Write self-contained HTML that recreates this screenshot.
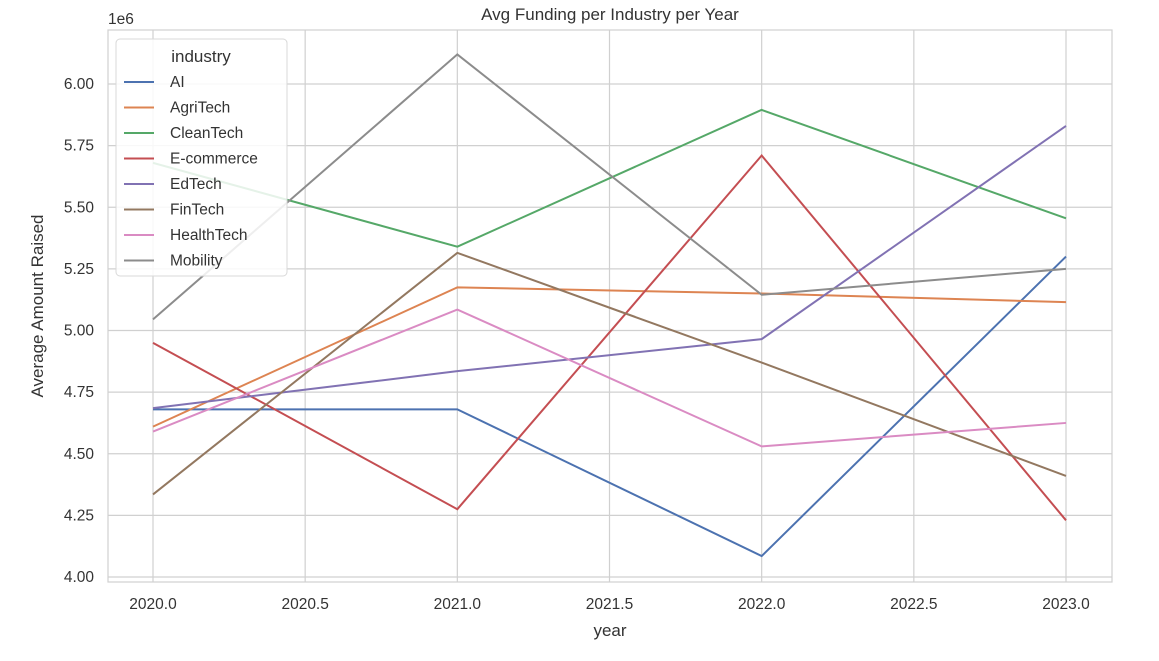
<!DOCTYPE html>
<html><head><meta charset="utf-8"><style>
body{margin:0;background:#fff;font-family:"Liberation Sans","DejaVu Sans",sans-serif}
</style></head><body>
<svg id="chart" width="1159" height="656" xmlns="http://www.w3.org/2000/svg" font-family="Liberation Sans, DejaVu Sans, sans-serif"></svg>
<script>
const years=[2020,2021,2022,2023];
const seriesNames=["AI","AgriTech","CleanTech","E-commerce","EdTech","FinTech","HealthTech","Mobility"];
const colors=["#4c72b0","#dd8452","#55a868","#c44e52","#8172b3","#937860","#da8bc3","#8c8c8c"];
const aiVals=[4.68,4.68,4.085,5.30];
const agriVals=[4.61,5.175,5.15,5.115];
const cleanVals=[5.68,5.34,5.895,5.455];
const ecomVals=[4.95,4.275,5.71,4.23];
const edVals=[4.685,4.835,4.965,5.83];
const finVals=[4.335,5.315,4.87,4.41];
const healthVals=[4.59,5.085,4.53,4.625];
const mobVals=[5.045,6.12,5.145,5.25];
const allVals=[aiVals,agriVals,cleanVals,ecomVals,edVals,finVals,healthVals,mobVals];
const xTicks=[2020.0,2020.5,2021.0,2021.5,2022.0,2022.5,2023.0];
const yTicks=[4.00,4.25,4.50,4.75,5.00,5.25,5.50,5.75,6.00];

const svg=document.getElementById('chart');
const NS='http://www.w3.org/2000/svg';
const L=108,R=1112,T=30,B=582;
function xs(v){return 153+(v-2020)*(1066-153)/3;}
function ys(v){return 577-(v-4)*(577-84)/2;}
function mk(tag,attrs,parent){const e=document.createElementNS(NS,tag);for(const k in attrs)e.setAttribute(k,attrs[k]);(parent||svg).appendChild(e);return e;}

mk('rect',{x:L,y:T,width:R-L,height:B-T,fill:'#fff',stroke:'#d0d0d0','stroke-width':1.2});
xTicks.forEach(t=>{
  const g=mk('line',{x1:xs(t),x2:xs(t),y1:T,y2:B,stroke:'#d0d0d0','stroke-width':1.2});
  
  
  const lb=mk('text',{x:xs(t),y:609,'text-anchor':'middle','font-size':15.5,fill:'#333'});
  lb.textContent=t.toFixed(1);
  
  
});
yTicks.forEach(t=>{
  const g=mk('line',{x1:L,x2:R,y1:ys(t),y2:ys(t),stroke:'#d0d0d0','stroke-width':1.2});
  
  
  const lb=mk('text',{x:94,y:ys(t)+5,'text-anchor':'end','font-size':15.5,fill:'#333'});
  lb.textContent=t.toFixed(2);
  
  
});
allVals.forEach((vals,i)=>{
  const p=mk('polyline',{points:vals.map((v,j)=>xs(years[j])+','+ys(v)).join(' '),fill:'none',stroke:colors[i],'stroke-width':2});
  
  
});
let t=mk('text',{x:610,y:20,'text-anchor':'middle','font-size':17,fill:'#333'});t.textContent='Avg Funding per Industry per Year';

t=mk('text',{x:610,y:636,'text-anchor':'middle','font-size':17,fill:'#333'});t.textContent='year';

t=mk('text',{x:43,y:306,'text-anchor':'middle','font-size':17,fill:'#333',transform:'rotate(-90 43 306)'});t.textContent='Average Amount Raised';

t=mk('text',{x:108,y:24,'font-size':15.5,fill:'#333'});t.textContent='1e6';

const lg=mk('g',{});

mk('rect',{x:116,y:39,width:171,height:237,rx:4,fill:'#fff','fill-opacity':0.85,stroke:'#d8d8d8'},lg);
t=mk('text',{x:201,y:62,'text-anchor':'middle','font-size':17,fill:'#333'},lg);t.textContent='industry';
seriesNames.forEach((n,i)=>{
  const y=82+i*25.5;
  const ln=mk('line',{x1:124,x2:154,y1:y,y2:y,stroke:colors[i],'stroke-width':2},lg);
  
  const tx=mk('text',{x:170,y:y+5,'font-size':15.5,fill:'#333'},lg);tx.textContent=n;
  
});
</script>
</body></html>
